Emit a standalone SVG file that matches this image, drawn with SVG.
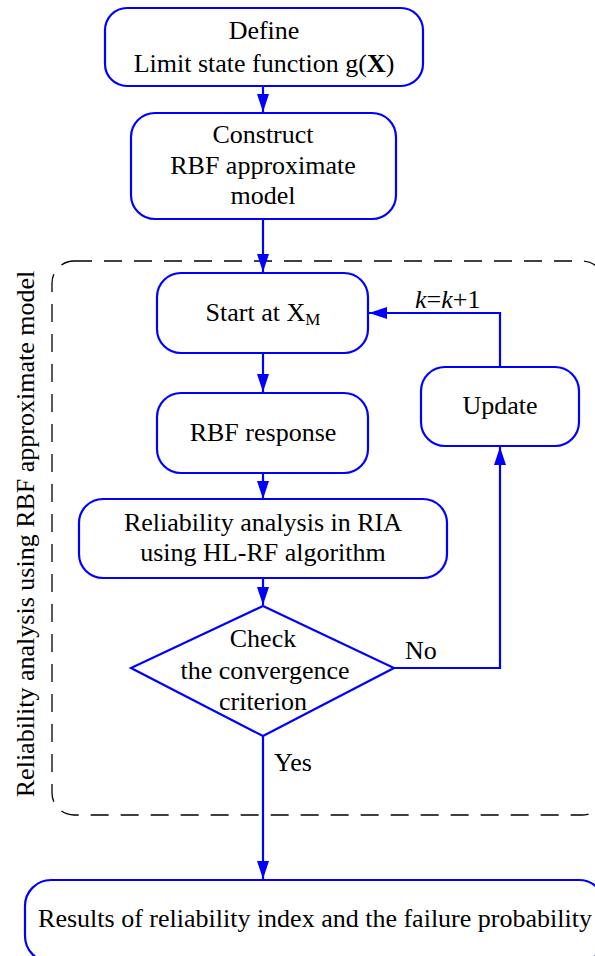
<svg xmlns="http://www.w3.org/2000/svg" width="595" height="956" viewBox="0 0 595 956">
<style>
.node{fill:#fff;stroke:#0000ff;stroke-width:2.2}
.t{font-family:"Liberation Serif","Times New Roman",serif;font-size:26px;fill:#000;text-anchor:middle}
.c{fill:none;stroke:#0000ff;stroke-width:2.2}
.dash{fill:none;stroke:#000;stroke-width:1.3;stroke-dasharray:18 12}
</style>
<defs>
<marker id="ah" markerUnits="userSpaceOnUse" markerWidth="18" markerHeight="12" refX="18" refY="6" orient="auto">
<path d="M0,0 L18,6 L0,12 z" fill="#0000ff"/>
</marker>
</defs>
<rect width="595" height="956" fill="#fff"/>
<g id="group-box">
<rect class="dash" x="52" y="261" width="552" height="554" rx="22" ry="22"/>
<text class="t" transform="translate(34,534) rotate(-90)">Reliability analysis using RBF approximate model</text>
</g>
<g id="connectors">
<line class="c" x1="263" y1="86" x2="263" y2="112" marker-end="url(#ah)"/>
<line class="c" x1="263" y1="219" x2="263" y2="272" marker-end="url(#ah)"/>
<line class="c" x1="263" y1="353" x2="263" y2="392" marker-end="url(#ah)"/>
<line class="c" x1="263" y1="473" x2="263" y2="499" marker-end="url(#ah)"/>
<line class="c" x1="263" y1="578" x2="263" y2="605" marker-end="url(#ah)"/>
<polyline class="c" points="394,668 500,668 500,447" marker-end="url(#ah)"/>
<polyline class="c" points="500,366 500,313 369,313" marker-end="url(#ah)"/>
<line class="c" x1="263" y1="736" x2="263" y2="879" marker-end="url(#ah)"/>
<text class="t" x="405" y="659" style="text-anchor:start">No</text>
<text class="t" x="274" y="771" style="text-anchor:start">Yes</text>
<text class="t" x="415" y="308" style="text-anchor:start"><tspan font-style="italic">k</tspan>=<tspan font-style="italic">k</tspan>+1</text>
</g>
<g id="define">
<rect class="node" x="105" y="8" width="318" height="78" rx="22" ry="22"/>
<text class="t" x="264" y="39">Define</text>
<text class="t" x="264" y="72">Limit state function g(<tspan font-weight="bold">X</tspan>)</text>
</g>
<g id="construct">
<rect class="node" x="131" y="113" width="265" height="106" rx="24" ry="24"/>
<text class="t" x="263" y="143">Construct</text>
<text class="t" x="263" y="174">RBF approximate</text>
<text class="t" x="263" y="204">model</text>
</g>
<g id="start">
<rect class="node" x="157" y="273" width="211" height="80" rx="24" ry="24"/>
<text class="t" x="263" y="321">Start at X<tspan font-size="17" dy="4">M</tspan></text>
</g>
<g id="update">
<rect class="node" x="421" y="367" width="158" height="79" rx="24" ry="24"/>
<text class="t" x="500" y="414">Update</text>
</g>
<g id="rbf">
<rect class="node" x="157" y="393" width="211" height="80" rx="24" ry="24"/>
<text class="t" x="263" y="441">RBF response</text>
</g>
<g id="ria">
<rect class="node" x="79" y="499" width="368" height="79" rx="24" ry="24"/>
<text class="t" x="263" y="531">Reliability analysis in RIA</text>
<text class="t" x="263" y="561">using HL-RF algorithm</text>
</g>
<g id="check">
<polygon class="node" points="263,606 394,668 263,736 131,668"/>
<text class="t" x="263" y="647">Check</text>
<text class="t" x="265" y="679">the convergence</text>
<text class="t" x="263" y="710">criterion</text>
</g>
<g id="results">
<rect class="node" x="25" y="880" width="580" height="82" rx="26" ry="26"/>
<text class="t" x="315" y="927">Results of reliability index and the failure probability</text>
</g>
</svg>
